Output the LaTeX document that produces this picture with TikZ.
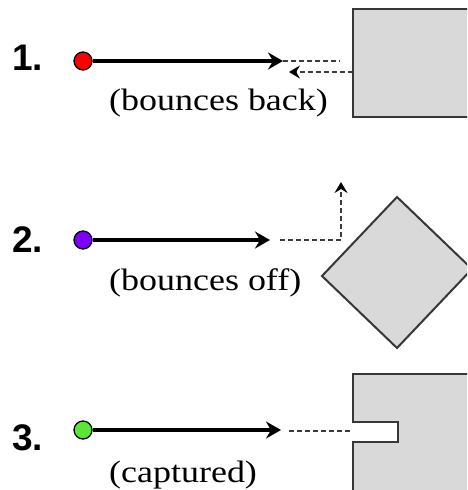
\documentclass[tikz,border=0pt]{standalone}
\usepackage{fontspec}
\setmainfont{Liberation Serif}
\newfontfamily\numfont{Liberation Sans}
\usetikzlibrary{arrows.meta}
\definecolor{blockfill}{RGB}{217,217,217}
\definecolor{blockline}{RGB}{55,55,55}
\definecolor{dashcol}{RGB}{60,60,60}
\definecolor{dotred}{RGB}{255,0,0}
\definecolor{dotviolet}{RGB}{125,0,255}
\definecolor{dotgreen}{RGB}{90,230,50}
\tikzset{
  ball/.style={circle,draw=black,line width=1.3pt,inner sep=0pt,minimum size=18pt},
  motion/.style={line width=3.2pt,-{Stealth[length=15pt,width=17pt,inset=5pt]}},
  trail/.style={draw=dashcol,line width=2.2pt,dash pattern=on 5pt off 3pt},
  trailarrow/.style={trail,-{Stealth[length=11pt,width=13pt,inset=4pt,color=black,fill=black]}},
  block/.style={fill=blockfill,draw=blockline,line width=2pt},
  num/.style={font=\numfont\bfseries\fontsize{37}{37}\selectfont,inner sep=0pt,anchor=base west},
  lbl/.style={inner sep=0pt,anchor=west}
}
\newcommand{\lbltext}[1]{\scalebox{1.16}[1]{\fontsize{31}{31}\selectfont #1}}
\begin{document}
\begin{tikzpicture}[x=1pt,y=-1pt]
\useasboundingbox (0,0) rectangle (467,490);
\clip (0,0) rectangle (467,490);
% blocks
\draw[block] (353,9) rectangle (480,117);
\draw[block] (397,197) -- (472,269) -- (397,348) -- (322,276) -- cycle;
\draw[block] (480,374) -- (353,374) -- (353,422) -- (398,422) -- (398,442) -- (353,442) -- (353,500) -- (480,500);
% row 1
\node[num] (n1) at (12,70) {1.};
\node[ball,fill=dotred] (b1) at (83,61) {};
\coordinate (t1) at (283,61);
\coordinate (d1) at (340,61);
\coordinate (r1s) at (353,72);
\coordinate (r1e) at (289,72);
\draw[motion] (b1.east) -- (t1);
\draw[trail] (t1) -- (d1);
\draw[trailarrow] (r1s) -- (r1e);
\node[lbl] (l1) at (109,103) {\lbltext{(bounces back)}};
% row 2
\node[num] (n2) at (12,252) {2.};
\node[ball,fill=dotviolet] (b2) at (83,240) {};
\coordinate (t2) at (270,240);
\coordinate (c2) at (341,240);
\coordinate (u2) at (341,182);
\draw[motion] (b2.east) -- (t2);
\draw[trailarrow] (t2) ++(10,0) -- (c2) -- (u2);
\node[lbl] (l2) at (109,283) {\lbltext{(bounces off)}};
% row 3
\node[num] (n3) at (12,450) {3.};
\node[ball,fill=dotgreen] (b3) at (83,430) {};
\coordinate (t3) at (281,430);
\coordinate (d3) at (352,431);
\draw[motion] (b3.east) -- (t3);
\draw[trail] (t3) ++(8,1) -- (d3);
\node[lbl] (l3) at (109,475) {\lbltext{(captured)}};
\end{tikzpicture}
\end{document}
